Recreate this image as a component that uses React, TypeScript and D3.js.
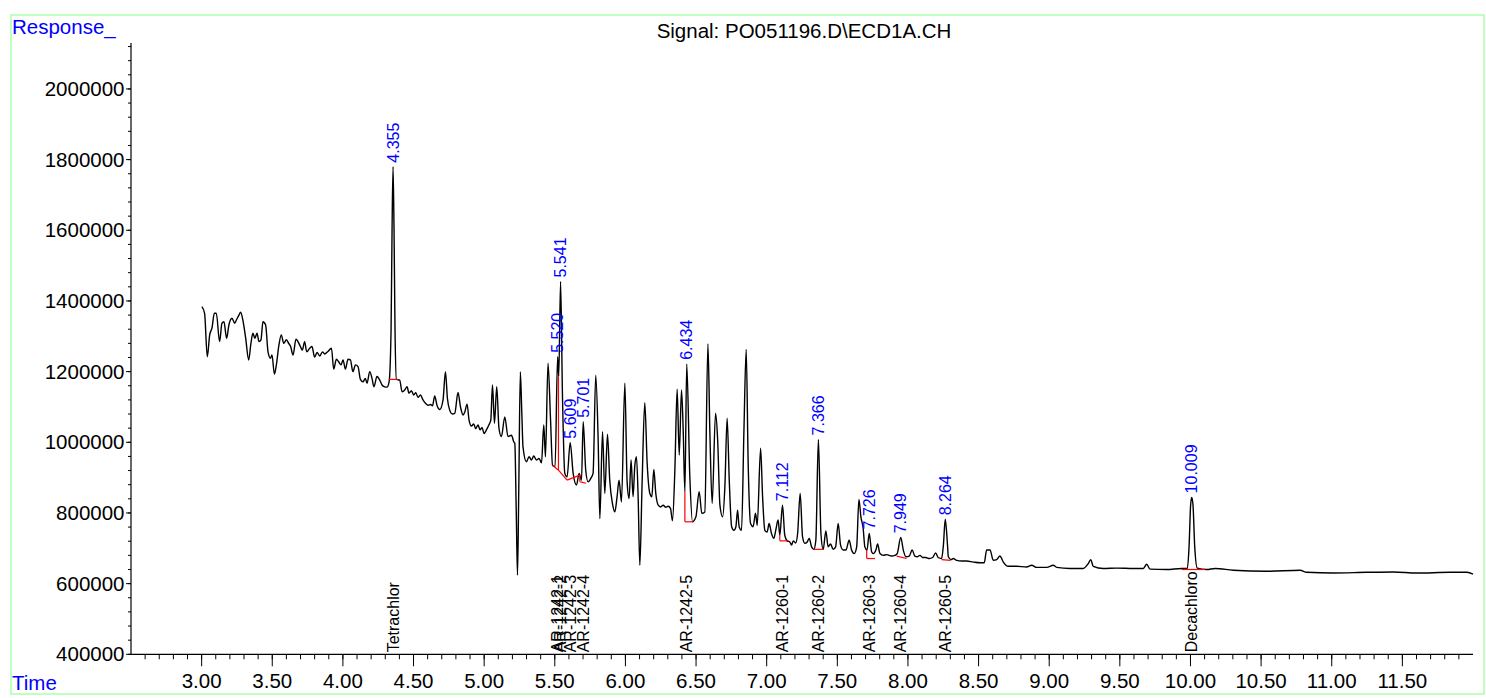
import * as d3 from "d3";

// chromatogram trace: [retention time (min), response (thousands of counts)]
const signal: [number, number][] = [
  [3.002,1384],[3.021,1365],[3.040,1242],[3.057,1304],[3.073,1323],[3.090,1365],[3.104,1365],[3.127,1285],[3.144,1337],[3.158,1341],
  [3.177,1294],[3.193,1332],[3.215,1351],[3.234,1337],[3.246,1346],[3.264,1360],[3.276,1368],[3.292,1346],[3.312,1294],[3.333,1233],
  [3.349,1280],[3.363,1309],[3.377,1294],[3.392,1309],[3.406,1285],[3.420,1290],[3.434,1341],[3.453,1332],[3.470,1256],[3.487,1238],
  [3.498,1247],[3.515,1193],[3.529,1219],[3.547,1275],[3.564,1304],[3.581,1280],[3.600,1290],[3.616,1280],[3.630,1271],[3.647,1247],
  [3.668,1292],[3.682,1285],[3.699,1271],[3.713,1261],[3.729,1285],[3.744,1256],[3.765,1266],[3.781,1271],[3.800,1241],[3.817,1254],
  [3.836,1244],[3.855,1256],[3.871,1250],[3.892,1256],[3.919,1266],[3.935,1207],[3.954,1235],[3.970,1228],[3.987,1219],[4.001,1233],
  [4.018,1207],[4.036,1235],[4.053,1233],[4.071,1200],[4.089,1219],[4.107,1214],[4.124,1178],[4.142,1171],[4.159,1181],[4.171,1167],
  [4.190,1200],[4.206,1181],[4.220,1157],[4.241,1186],[4.261,1176],[4.277,1162],[4.296,1157],[4.312,1156],[4.327,1171],[4.341,1318],
  [4.348,1601],[4.355,1780],[4.362,1601],[4.369,1318],[4.379,1178],[4.402,1176],[4.419,1143],[4.438,1148],[4.454,1157],[4.468,1139],
  [4.485,1146],[4.501,1134],[4.516,1140],[4.532,1127],[4.549,1134],[4.567,1120],[4.586,1110],[4.603,1105],[4.622,1107],[4.634,1103],
  [4.650,1131],[4.666,1105],[4.686,1093],[4.709,1120],[4.726,1200],[4.740,1124],[4.756,1091],[4.775,1080],[4.792,1082],[4.815,1141],
  [4.832,1101],[4.851,1077],[4.863,1086],[4.879,1108],[4.893,1063],[4.910,1046],[4.926,1052],[4.940,1039],[4.957,1049],[4.971,1035],
  [4.985,1042],[4.999,1025],[5.016,1035],[5.033,1049],[5.047,1063],[5.059,1162],[5.073,1054],[5.089,1157],[5.105,1039],[5.122,1016],
  [5.146,1072],[5.169,1016],[5.193,1020],[5.210,1001],[5.217,997],[5.227,808],[5.236,624],[5.245,865],[5.256,1199],[5.266,1091],
  [5.275,987],[5.299,945],[5.318,959],[5.335,950],[5.351,961],[5.370,950],[5.389,954],[5.406,942],[5.422,1049],[5.434,959],
  [5.452,1224],[5.470,1063],[5.484,935],[5.502,931],[5.520,1242],[5.528,1186],[5.541,1455],[5.554,1139],[5.571,912],[5.587,902],
  [5.609,999],[5.630,912],[5.654,879],[5.672,912],[5.689,893],[5.701,1058],[5.719,921],[5.736,888],[5.755,898],[5.771,912],
  [5.790,1190],[5.807,1006],[5.819,784],[5.838,1030],[5.854,855],[5.873,1023],[5.889,893],[5.908,827],[5.925,803],[5.941,846],
  [5.955,893],[5.972,831],[5.996,1167],[6.012,888],[6.026,841],[6.040,950],[6.054,846],[6.066,931],[6.078,959],[6.090,846],
  [6.102,652],[6.118,884],[6.137,1112],[6.154,940],[6.173,855],[6.187,846],[6.201,923],[6.215,855],[6.232,822],[6.249,817],
  [6.267,822],[6.286,816],[6.302,819],[6.319,813],[6.333,778],[6.350,921],[6.366,1150],[6.381,964],[6.397,1148],[6.409,1035],
  [6.421,860],[6.434,1222],[6.456,902],[6.475,775],[6.499,789],[6.522,860],[6.541,799],[6.562,803],[6.584,1278],[6.598,1025],
  [6.614,827],[6.638,1082],[6.653,1006],[6.669,822],[6.688,789],[6.704,874],[6.720,1068],[6.735,893],[6.752,761],[6.768,751],
  [6.782,761],[6.794,808],[6.805,761],[6.822,751],[6.839,1035],[6.855,1263],[6.869,940],[6.886,770],[6.904,761],[6.921,799],
  [6.933,765],[6.957,983],[6.971,846],[6.987,751],[7.003,746],[7.017,770],[7.034,742],[7.051,728],[7.065,753],[7.081,780],
  [7.093,737],[7.112,822],[7.128,737],[7.145,721],[7.164,718],[7.176,709],[7.188,721],[7.205,715],[7.219,742],[7.237,855],
  [7.254,732],[7.270,714],[7.287,718],[7.301,728],[7.318,704],[7.334,697],[7.348,723],[7.366,1008],[7.384,742],[7.400,697],
  [7.419,749],[7.435,704],[7.452,712],[7.471,697],[7.488,704],[7.506,770],[7.523,709],[7.542,695],[7.561,695],[7.584,723],
  [7.601,695],[7.620,685],[7.637,704],[7.653,838],[7.667,789],[7.683,756],[7.695,704],[7.710,695],[7.726,742],[7.743,690],
  [7.754,685],[7.773,695],[7.785,712],[7.802,685],[7.825,680],[7.849,682],[7.884,678],[7.908,680],[7.924,685],[7.949,731],
  [7.967,695],[7.986,676],[8.009,678],[8.030,695],[8.049,678],[8.066,676],[8.085,680],[8.104,674],[8.127,674],[8.151,671],
  [8.175,674],[8.196,687],[8.214,674],[8.238,671],[8.251,709],[8.264,782],[8.280,709],[8.286,676],[8.305,668],[8.321,671],
  [8.345,666],[8.381,664],[8.416,664],[8.463,661],[8.510,659],[8.540,659],[8.557,695],[8.581,695],[8.604,666],[8.628,668],
  [8.651,678],[8.675,661],[8.710,649],[8.770,649],[8.840,647],[8.876,652],[8.911,646],[8.982,646],[9.029,652],[9.053,646],
  [9.147,643],[9.241,643],[9.277,657],[9.294,668],[9.312,649],[9.383,643],[9.478,644],[9.596,643],[9.666,643],[9.690,655],
  [9.714,641],[9.832,640],[9.938,643],[9.978,643],[9.990,705],[10.001,822],[10.009,844],[10.018,822],[10.030,705],[10.048,644],
  [10.115,640],[10.174,643],[10.303,638],[10.540,635],[10.776,638],[10.823,632],[11.012,630],[11.248,632],[11.437,633],[11.602,630],
  [11.838,632],[11.957,632],[12.000,627],
];

// integrated peaks: retention time label and apex response (thousands)
const peakTimes = [4.355, 5.520, 5.541, 5.609, 5.701, 6.434, 7.112, 7.366, 7.726, 7.949, 8.264, 10.009];
const peakApex = [1780, 1242, 1455, 999, 1058, 1222, 822, 1008, 742, 731, 782, 844];

// identified compounds
const compoundNames = ["Tetrachlor", "AR-1242-1", "AR-1242-2", "AR-1242-3", "AR-1242-4", "AR-1242-5",
  "AR-1260-1", "AR-1260-2", "AR-1260-3", "AR-1260-4", "AR-1260-5", "Decachloro"];
const compoundTimes = [4.355, 5.520, 5.541, 5.609, 5.701, 6.434, 7.112, 7.366, 7.726, 7.949, 8.264, 10.009];

// integration baselines: [t1, r1, t2, r2] (thousands)
const baselines: [number, number, number, number][] = [
  [4.327, 1178, 4.391, 1178],
  [5.484, 935, 5.526, 921],
  [5.526, 921, 5.587, 893],
  [5.587, 893, 5.677, 907],
  [5.680, 888, 5.722, 884],
  [6.421, 775, 6.480, 775],
  [7.093, 721, 7.155, 721],
  [7.334, 697, 7.400, 697],
  [7.708, 671, 7.767, 671],
  [7.920, 678, 7.990, 671],
  [8.238, 668, 8.302, 666],
  [9.938, 640, 10.103, 640],
];
// peak drop lines: [t, top, bottom]
const dropLines: [number, number, number][] = [
  [5.526, 1186, 921],
  [5.677, 907, 888],
  [6.421, 860, 775],
  [7.093, 737, 721],
  [7.708, 695, 671],
];

const title = "Signal: PO051196.D\\ECD1A.CH";

const W = 1486, H = 698;
const FONT = "'Liberation Sans', Arial, sans-serif";

export default function App() {
  const x = d3.scaleLinear().domain([2.5, 12.0]).range([131, 1473]);
  const y = d3.scaleLinear().domain([400000, 2130000]).range([654.3, 43]);
  const yk = (v: number) => y(v * 1000);

  const line = d3.line<[number, number]>()
    .x(d => x(d[0]))
    .y(d => yk(d[1]))
    .curve(d3.curveMonotoneX);

  const xMajor = d3.range(6, 24).map(i => i / 2);
  const xMinor = d3.range(26, 120).map(i => i / 10);
  const yMajor = d3.range(400000, 2000001, 200000);
  const yMinor = d3.range(400000, 2130000, 40000);
  const x0 = x.range()[0], x1 = x.range()[1];
  const yb = y.range()[0], yt = y.range()[1];

  return (
    <svg width={W} height={H} style={{ position: "absolute", left: 0, top: 0, background: "#fff" }}
      fontFamily={FONT}>
      <rect x={11} y={15} width={1473} height={679} fill="none" stroke="#80ff80" strokeWidth={1} />
      <text x={12} y={34} fontSize={20.5} fill="#0000ff">Response_</text>
      <text x={12} y={690} fontSize={20.5} fill="#0000ff">Time</text>
      <text x={804} y={38} fontSize={20.5} textAnchor="middle" fill="#000">{title}</text>

      {/* y axis */}
      <line x1={x0} x2={x0} y1={yt} y2={yb} stroke="#000" strokeWidth={1.2} />
      {yMinor.map(v => (
        <line key={"ym" + v} x1={x0 - 3} x2={x0} y1={y(v)} y2={y(v)} stroke="#000" />
      ))}
      {yMajor.map(v => (
        <g key={"y" + v}>
          <line x1={x0 - 5} x2={x0} y1={y(v)} y2={y(v)} stroke="#000" />
          <text x={x0 - 6.5} y={y(v)} dy="0.35em" fontSize={20.5} textAnchor="end" fill="#000">{v}</text>
        </g>
      ))}

      {/* x axis */}
      <line x1={x0} x2={x1} y1={yb} y2={yb} stroke="#000" strokeWidth={1.2} />
      {xMinor.map(v => (
        <line key={"xm" + v} x1={x(v)} x2={x(v)} y1={yb} y2={yb + 5} stroke="#000" />
      ))}
      {xMajor.map(v => (
        <g key={"x" + v}>
          <line x1={x(v)} x2={x(v)} y1={yb} y2={yb + 12} stroke="#000" />
          <text x={x(v)} y={688} fontSize={20.5} textAnchor="middle" fill="#000">{v.toFixed(2)}</text>
        </g>
      ))}

      {/* signal */}
      <path d={line(signal) ?? ""} fill="none" stroke="#000" strokeWidth={1.4} strokeLinejoin="round" />

      {/* baselines */}
      {baselines.map((b, i) => (
        <line key={"b" + i} x1={x(b[0])} y1={yk(b[1])} x2={x(b[2])} y2={yk(b[3])} stroke="#ff0000" strokeWidth={1.2} />
      ))}
      {dropLines.map((d, i) => (
        <line key={"d" + i} x1={x(d[0])} y1={yk(d[1])} x2={x(d[0])} y2={yk(d[2])} stroke="#ff0000" strokeWidth={1.2} />
      ))}

      {/* peak retention time labels */}
      {peakTimes.map((t, i) => (
        <text key={"p" + i} transform={`translate(${x(t)},${yk(peakApex[i]) - 4}) rotate(-90)`}
          dy="0.35em" fontSize={16} fill="#0000ff">{t.toFixed(3)}</text>
      ))}

      {/* compound names */}
      {compoundNames.map((n, i) => (
        <text key={"c" + i} transform={`translate(${x(compoundTimes[i])},${yb - 2}) rotate(-90)`}
          dy="0.35em" fontSize={16} fill="#000">{n}</text>
      ))}
    </svg>
  );
}
